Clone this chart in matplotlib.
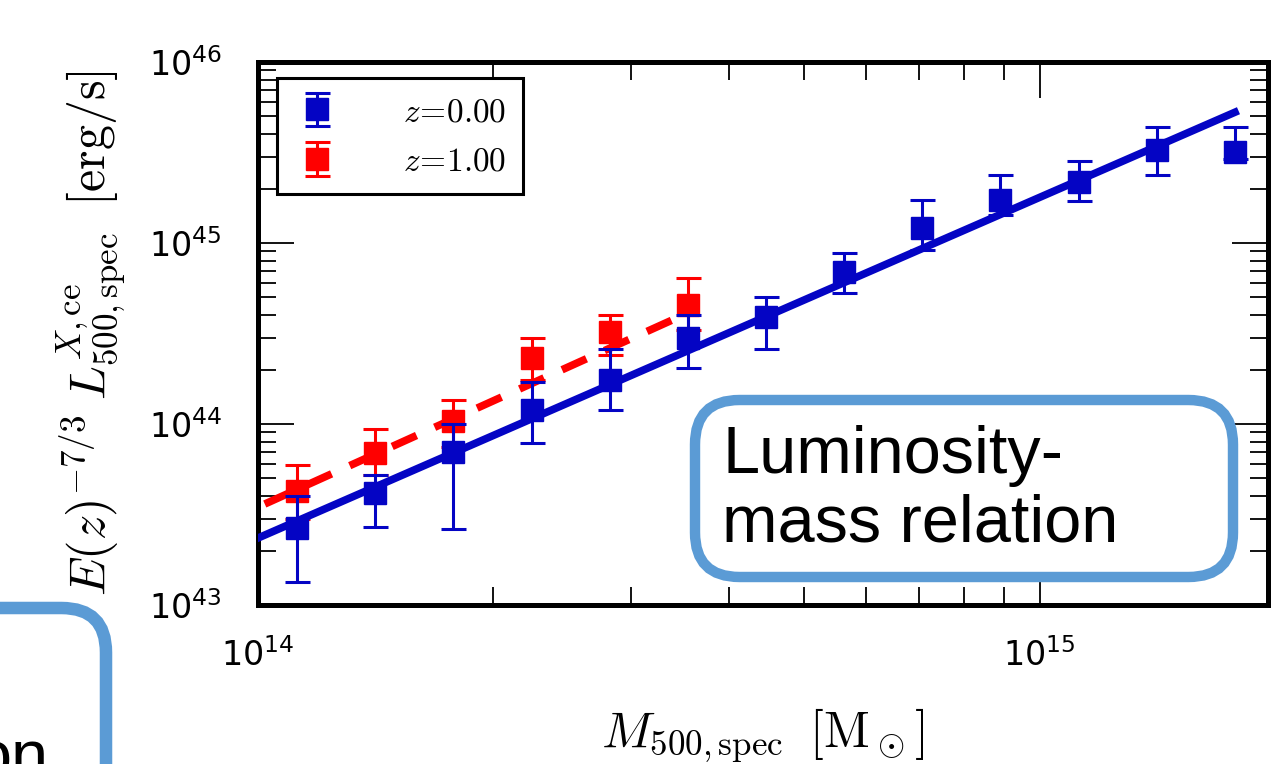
import numpy as np
import matplotlib
matplotlib.use("Agg")
import matplotlib.pyplot as plt
from matplotlib.patches import FancyBboxPatch
from matplotlib.ticker import LogLocator, NullFormatter, LogFormatterSciNotation

# ---------------- data ----------------
logm_z0 = [14.05, 14.15, 14.25, 14.35, 14.45, 14.55, 14.65, 14.75, 14.85, 14.95, 15.05, 15.15, 15.25]
lum_z0 = [2.66e43, 4.16e43, 7.0e43, 1.19e44, 1.75e44, 2.99e44, 3.9e44, 6.9e44, 1.21e45, 1.73e45, 2.17e45, 3.27e45, 3.18e45]
lum_z0_lo = [1.34e43, 2.7e43, 2.63e43, 7.85e43, 1.19e44, 2.04e44, 2.6e44, 5.3e44, 9.1e44, 1.43e45, 1.71e45, 2.38e45, 2.9e45]
lum_z0_hi = [4.0e43, 5.2e43, 1.0e44, 1.7e44, 2.6e44, 4.0e44, 5.0e44, 8.8e44, 1.73e45, 2.38e45, 2.84e45, 4.38e45, 4.38e45]

logm_z1 = [14.05, 14.15, 14.25, 14.35, 14.45, 14.55]
lum_z1 = [4.26e43, 6.92e43, 1.04e44, 2.32e44, 3.22e44, 4.54e44]
lum_z1_lo = [3.0e43, 5.2e43, 7.5e43, 1.75e44, 2.4e44, 3.3e44]
lum_z1_hi = [5.93e43, 9.4e43, 1.36e44, 3.0e44, 4.0e44, 6.4e44]

# power-law fits: log L = norm + slope * (log M - 14), over [start, end] in log M
fit_z0 = dict(norm=43.37, slope=1.882, start=13.9, end=15.25)
fit_z1 = dict(norm=43.541, slope=1.95, start=13.9, end=14.55)

labels = [r'$z\!=\!0.00$', r'$z\!=\!1.00$']
blue = '#0404c4'
red = '#ff0000'

# ---------------- figure ----------------
W, H = 1273, 764
fig = plt.figure(figsize=(W / 100, H / 100), dpi=100)
ax = fig.add_axes([258 / W, 1 - 605 / H, (1268 - 258) / W, (605 - 62) / H])

def fit_line(f):
    lm = np.linspace(f['start'], f['end'], 50)
    return 10 ** lm, 10 ** (f['norm'] + f['slope'] * (lm - 14))

def errs(v, lo, hi):
    v, lo, hi = map(np.asarray, (v, lo, hi))
    return np.vstack([v - lo, hi - v])

mz0 = 10 ** np.asarray(logm_z0)
mz1 = 10 ** np.asarray(logm_z1)

ax.errorbar(mz0, lum_z0, yerr=errs(lum_z0, lum_z0_lo, lum_z0_hi), fmt='s', color=blue,
            ms=16, mec=blue, elinewidth=2.2, capsize=9, capthick=2.2, label=labels[0], zorder=3)
ax.errorbar(mz1, lum_z1, yerr=errs(lum_z1, lum_z1_lo, lum_z1_hi), fmt='s', color=red,
            ms=16, mec=red, elinewidth=2.2, capsize=9, capthick=2.2, label=labels[1], zorder=2)
x0, y0 = fit_line(fit_z0)
ax.plot(x0, y0, '-', color=blue, lw=5.5, zorder=4)
x1, y1 = fit_line(fit_z1)
ax.plot(x1, y1, '--', color=red, lw=5.5, dashes=(3.5, 2.6), zorder=2.5)

ax.set_xscale('log')
ax.set_yscale('log')
ax.set_xlim(1e14, 1.96e15)
ax.set_ylim(1e43, 1e46)

for a in (ax.xaxis, ax.yaxis):
    a.set_major_locator(LogLocator(base=10, numticks=10))
    a.set_minor_locator(LogLocator(base=10, subs=np.arange(2, 10), numticks=20))
    a.set_minor_formatter(NullFormatter())
    a.set_major_formatter(LogFormatterSciNotation())

ax.tick_params(which='both', direction='in', top=True, right=True, width=1.3, color='black')
ax.tick_params(which='major', length=26)
ax.tick_params(which='minor', length=13)
ax.tick_params(axis='x', which='major', pad=24, labelsize=24)
ax.tick_params(axis='y', which='major', pad=26, labelsize=24)
for s in ax.spines.values():
    s.set_linewidth(3.6)

ax.set_xlabel(r'$M_{500,\mathrm{spec}}\;\;[\mathrm{M}_\odot]$', fontsize=36, math_fontfamily='cm', labelpad=24)
ax.set_ylabel(r'$E(z)^{-7/3}\;L^{X,\mathrm{ce}}_{500,\mathrm{spec}}\;\;[\mathrm{erg/s}]$', fontsize=36,
              math_fontfamily='cm', labelpad=14)

leg = ax.legend(loc='upper left', bbox_to_anchor=(0.012, 0.982), fontsize=24, frameon=True,
                fancybox=False, framealpha=1, handlelength=1.4, handletextpad=1.9, borderpad=0.5,
                labelspacing=0.5, borderaxespad=0.2)
for t in leg.get_texts():
    t.set_math_fontfamily('cm')
leg.get_frame().set_edgecolor('black')
leg.get_frame().set_linewidth(2.2)

# callout boxes (slide annotations)
box_col = '#5b9bd5'
fig.patches.append(FancyBboxPatch((695 / W, 1 - 577 / H), 538 / W, 177 / H,
                                  boxstyle='round,pad=0,rounding_size=0.035',
                                  transform=fig.transFigure, fc='white', ec=box_col, lw=7.5,
                                  zorder=10, mutation_aspect=W / H))
fig.text(722 / W, 1 - 490 / H, 'Luminosity-\nmass relation', fontsize=48, family='Liberation Sans',
         ha='left', va='center', linespacing=1.13, zorder=11)

fig.patches.append(FancyBboxPatch((-60 / W, -80 / H), 166 / W, 236 / H,
                                  boxstyle='round,pad=0,rounding_size=0.035',
                                  transform=fig.transFigure, fc='none', ec=box_col, lw=9,
                                  zorder=10, mutation_aspect=W / H, clip_on=False))
fig.text(48 / W, -14 / H, 'on', fontsize=48, family='Liberation Sans', ha='right', va='baseline', zorder=11)

fig.savefig('out.png', dpi=100)
